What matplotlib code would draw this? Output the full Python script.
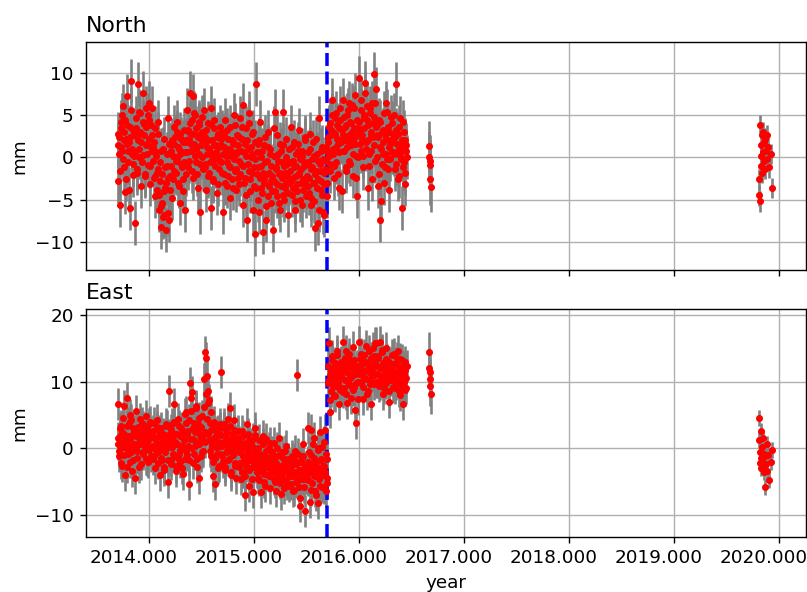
import matplotlib
matplotlib.use("Agg")
import matplotlib.pyplot as plt
from matplotlib.ticker import FormatStrFormatter
from matplotlib.transforms import ScaledTranslation
import numpy as np

plt.rcParams["font.size"] = 10.5

# main campaign: solutions every 3 days from 2013.70, plus a second
# set of solutions offset by half a step
T_START = 2013.70
STEP_DAYS = 3
EVENT_YEAR = 2015.70
YEAR_TICKS = [2014, 2015, 2016, 2017, 2018, 2019, 2020]

north_main = [
    1.5, -2.8, 2.4, -5.6, 4.2, 0.8, 6.1, -1.2, 3.0, -4.1, 2.2, 7.2, -0.5, 1.8, -6.0, 3.6, 9.0, 0.4, -2.1, 2.9,
    -7.8, 2.5, 4.6, -1.4, 8.6, 1.0, 5.2, -3.4, 2.8, 7.6, 0.3, 3.9, -2.2, 5.8, 1.6, -0.9, 4.4, 6.4, -3.2, 1.2,
    5.8, 1.2, -2.4, 3.4, -4.6, 0.6, -1.8, 4.2, -6.2, -2.8, -8.2, 0.8, -5.4, -7.0, 2.2, -3.6, -8.6, -1.0, -6.6, 4.6,
    -7.4, -2.2, 1.4, -4.8, 0.2, 3.6, -1.6, 2.4, -0.4, 4.2, -3.0, 1.0, -5.4, 2.8, -0.8, 0.6, -2.6, 3.2, -6.2, 1.8,
    2.0, 5.6, -1.2, 3.0, 7.6, 0.8, 4.4, 7.2, -2.4, 1.6, 5.0, -0.6, 2.6, -3.6, 3.8, 0.4, -6.4, 2.2, 4.8, -1.4,
    5.6, -0.8, 2.4, -3.8, 1.2, 4.0, -1.8, 0.6, 5.8, -6.0, 2.0, -2.6, 3.4, -0.2, 1.4, -4.2, 2.8, 0.0, -1.4, 3.6,
    -0.6, 3.0, -6.4, 1.2, -2.0, 4.4, 0.2, -3.4, 2.2, -1.0, 3.6, -4.8, 0.8, -2.6, 1.8, 5.0, -1.6, 0.4, -3.8, 2.6,
    1.4, -3.2, 4.6, -0.8, 2.2, -5.6, 6.2, 0.6, -2.4, 3.4, -7.4, 1.0, -1.6, 5.2, -4.0, 0.0, 2.8, -6.2, -1.2, 1.8,
    -9.0, 8.6, -2.0, 1.6, -6.4, 4.2, -1.0, -3.6, 0.8, -8.8, -2.6, 2.4, -7.4, -0.4, 3.0, -4.6, -1.8, 1.0, -5.4, -2.2,
    -8.6, 3.4, -2.8, 5.4, -1.2, -4.6, 0.4, -2.0, -6.2, 1.6, -3.4, -0.6, 5.4, -5.0, -1.8, 2.2, -3.0, -0.8, -4.2, 1.0,
    -1.6, 3.6, -4.4, -0.4, -2.4, 1.8, -6.2, -1.0, -3.2, 0.8, -2.0, 3.2, -5.0, -1.4, 0.2, -3.8, -0.6, 2.4, -2.8, -4.6,
    -2.2, 0.6, -4.2, 2.8, -1.4, -5.6, -0.2, 1.8, -3.0, -8.4, -1.6, 0.4, -7.8, -2.6, 4.6, -0.8, -3.8, 1.2, -6.4, -1.8,
    -6.8, -1.4, 1.2, -3.0, 2.4, 0.2, 4.0, -1.6, 3.2, 6.8, 1.0, -2.4, 2.8, 5.2, -0.6, 3.8, 1.6, -3.6, 4.4, 2.0,
    -4.0, 2.6, 6.8, 0.8, 3.6, -1.2, 5.0, 2.0, 6.4, -0.4, 4.2, 1.4, 3.0, -2.2, 5.8, 2.4, 7.4, 0.2, -4.6, 3.4,
    9.4, 3.2, 0.8, 5.6, 2.2, -1.2, 4.6, 8.8, 1.8, 6.0, -3.6, 3.8, 0.4, 5.2, 2.6, -2.6, 4.0, 9.8, 1.4, 6.4,
    8.0, 2.6, -3.4, 4.4, -7.4, 1.2, -5.2, 3.0, 0.4, 5.2, -1.2, 2.2, 6.4, -0.2, 3.6, -3.8, 1.6, 4.8, 0.6, 2.8,
    1.8, 5.0, -1.4, 8.6, 0.6, 2.8, -2.2, 3.6, 0.2, 1.4, -6.0, 4.2, -0.6, 2.0, -1.8, 0.8,
]

north_main_b = [
    2.8, 0.4, -1.6, 3.4, 1.2, 5.0, -0.2, 2.0, 4.4, -2.6, 1.6, 3.8, 0.8, -3.8, 2.4, 5.6, 1.0, -0.8, 3.2, 0.2,
    0.6, 3.4, -1.8, 2.0, 5.4, 0.0, 3.0, 1.8, -0.6, 4.2, 2.6, -2.0, 1.4, 3.6, 0.4, 5.0, 2.2, -1.0, 3.8, 0.8,
    2.6, -0.4, 1.8, -2.2, 0.2, -3.8, 2.8, -1.4, -4.4, -0.6, -5.8, -2.0, 1.0, -4.0, -6.8, -1.2, -3.0, 0.4, -2.4, 1.6,
    -3.8, 0.8, -1.0, 2.0, -2.6, 1.6, 0.0, -1.8, 3.0, -0.2, 1.2, -3.4, 0.4, 2.2, -1.2, -4.0, 1.8, -0.6, 0.6, -2.0,
    0.6, 3.2, 2.2, -0.4, 4.0, 1.6, -1.6, 2.8, 5.2, 0.2, 3.4, 1.0, -2.0, 2.4, 4.2, -0.8, 1.4, 3.0, 0.0, 2.6,
    1.8, -1.2, 3.2, 0.4, -2.2, 2.0, 1.0, -0.6, 3.8, 0.2, -2.8, 1.4, 4.4, -1.0, 0.6, 2.4, -3.2, 1.2, -0.4, 2.2,
    1.4, -1.8, 0.4, 2.6, -3.0, 0.8, -0.6, 3.2, -2.2, 1.0, -1.2, 0.2, 2.0, -3.6, 1.6, -0.2, 3.8, -1.4, 0.6, -2.4,
    -0.4, 2.4, -2.0, 0.8, 3.6, -1.0, -3.0, 1.6, 0.2, -4.4, 2.0, -0.8, 4.0, -2.6, 1.2, -1.8, 0.4, 3.0, -3.4, -0.2,
    -3.6, 0.6, -1.2, -5.0, 2.0, -2.4, 0.0, -4.2, -1.8, 1.4, -3.0, -0.6, -5.8, -2.0, 1.2, -3.4, 0.4, -2.8, -1.0, -4.0,
    -2.8, 0.2, -4.0, -1.4, 2.6, -3.2, -0.4, -5.4, -1.8, 0.8, -2.4, -4.4, 1.4, -1.0, -3.6, 0.0, -2.2, -6.8, -0.6, -3.0,
    -0.6, -2.8, 1.2, -3.6, -1.2, -5.2, 0.4, -2.2, -4.0, 1.6, -1.8, -0.2, -3.0, -5.6, 0.8, -2.6, -1.0, 2.0, -3.4, -0.8,
    -3.4, -0.6, -2.4, 1.0, -4.8, -1.2, -3.0, 0.2, -5.2, -2.0, 2.2, -3.6, -0.4, -6.2, -1.6, 0.8, -2.8, -4.4, -0.2, -3.2,
    -3.2, -0.4, -4.6, 0.8, 1.8, 3.6, -0.8, 2.6, 5.0, 0.4, 3.0, -1.0, 4.6, 1.2, 2.2, -2.0, 3.4, 0.6, 5.8, 1.8,
    3.2, 0.8, 4.8, 2.0, -1.6, 3.8, 1.2, 5.6, 2.6, -0.8, 4.0, 2.2, 6.2, 0.4, 3.4, 1.6, -2.4, 4.4, 2.8, 0.0,
    4.2, 1.6, 6.8, 2.6, 0.2, 5.0, 3.4, 7.6, 1.0, 4.4, 2.0, -1.0, 5.8, 3.0, 0.8, 6.4, 2.4, 4.8, -0.4, 3.6,
    3.8, 0.0, 2.4, -2.0, 4.2, 1.0, -0.8, 3.2, 1.8, -3.0, 2.6, 0.4, 5.4, -1.4, 1.2, 3.0, -0.2, 2.0, 4.0, 0.6,
    0.4, 2.4, -0.8, 3.2, 1.6, -2.6, 1.0, 4.6, -0.2, 2.0, 0.8, -1.2, 3.0, -3.2, 1.4, 0.0,
]

east_main = [
    0.6, 6.6, -1.2, 1.8, 3.4, -2.6, 0.2, 6.4, 2.2, -4.0, 1.0, 7.6, -0.8, 3.8, -2.0, 1.4, 4.2, -3.4, 0.4, 2.6,
    -4.4, 1.8, 5.6, -0.4, 2.8, 0.6, 4.4, -2.4, 1.4, 3.2, -0.8, 2.0, 0.2, 4.8, -1.8, 1.2, 3.6, -0.2, 2.4, -1.2,
    2.2, -1.6, 3.8, 0.4, -3.0, 1.6, 4.2, -0.6, 2.6, -4.0, 0.8, 3.0, -1.8, 1.2, -2.8, 2.0, 0.0, 3.4, -5.0, 1.0,
    8.6, 0.2, -2.4, 3.6, 1.2, -1.2, 6.6, 2.2, -3.4, 0.6, 4.4, -0.8, 1.8, -2.0, 3.0, 0.4, -3.8, 2.4, 5.2, -0.4,
    5.4, -1.0, 2.6, -5.4, 9.8, 7.6, 8.4, 1.4, -2.2, 3.8, 0.4, 6.0, -1.6, 2.8, 4.6, -4.4, 1.2, 3.2, -0.6, 2.0,
    10.4, 2.4, 14.4, 13.6, 10.8, 8.6, 7.2, 3.8, 5.4, -1.2, 0.8, -4.2, 4.0, -5.4, 1.8, -0.8, 2.6, 0.2, -2.6, 3.0,
    11.4, 0.4, -2.0, 3.6, 1.0, -3.2, 2.2, -0.6, 4.4, -1.6, 0.8, 6.0, -4.0, 1.6, -0.2, 2.8, -2.6, 0.2, -4.4, 1.2,
    1.6, -2.8, 0.2, -4.6, 2.6, -1.2, -3.6, 0.8, -7.0, -2.0, 3.6, -0.4, -5.6, 1.2, -3.0, -1.6, 0.4, -6.6, -2.4, 2.0,
    3.0, -2.6, -0.8, -4.4, 1.2, -3.4, -6.6, -1.4, -2.2, 0.6, -5.0, -3.0, 1.4, -1.8, -4.0, -2.8, 0.0, -6.0, -3.6, -1.0,
    -2.4, 0.8, -4.6, -3.0, -6.4, -1.2, -3.8, 1.6, -5.2, -2.6, -4.0, -0.6, -3.4, -6.0, -2.0, 0.4, -4.8, -3.2, -1.6, -5.6,
    -3.0, -5.4, -1.2, -4.2, -2.4, -6.2, -0.4, -3.6, 11.0, -4.8, -2.0, -5.8, -8.6, -3.2, -1.4, 0.6, -4.6, -2.8, -9.4, -3.8,
    -4.4, 3.0, -2.2, -8.0, -1.0, 2.8, -5.2, -3.0, 1.6, -6.4, -2.0, -4.0, 0.0, -8.2, -3.4, 2.4, -1.6, -5.8, -2.6, 1.0,
    -2.6, 2.8, -6.4, -4.4, 9.8, 15.8, 11.0, 5.4, 8.6, 13.2, 10.4, 12.2, 7.8, 11.6, 9.4, 14.0, 10.8, 6.6, 12.6, 9.0,
    11.4, 16.0, 8.4, 12.8, 10.2, 14.6, 6.8, 11.8, 9.6, 13.4, 10.6, 7.6, 12.4, 15.2, 9.2, 11.2, 5.8, 3.8, 12.0, 10.0,
    16.0, 12.4, 9.8, 14.2, 11.0, 7.4, 13.0, 10.4, 15.4, 11.8, 8.6, 12.8, 14.6, 10.2, 6.6, 12.2, 11.4, 13.8, 9.6, 15.8,
    15.8, 11.2, 13.6, 9.4, 16.0, 12.0, 10.6, 14.4, 8.2, 12.8, 11.4, 15.0, 9.8, 13.2, 10.4, 7.0, 12.6, 11.6, 14.0, 9.2,
    11.6, 14.2, 9.0, 12.8, 10.4, 14.6, 8.6, 11.8, 13.4, 10.0, 12.4, 6.6, 11.2, 13.0, 8.8, 10.6,
]

east_main_b = [
    1.6, -0.4, 3.0, 0.8, -2.2, 2.4, 4.6, -1.0, 1.2, 0.0, 3.4, -2.8, 1.8, 0.4, 5.0, -0.6, 2.0, -1.8, 3.0, 0.6,
    2.4, 0.0, -1.4, 3.2, 1.0, -2.8, 2.2, 0.6, 3.8, -0.6, 1.6, 2.8, -1.6, 0.8, 3.0, -2.0, 1.8, 4.0, 0.2, 2.0,
    0.4, 2.6, -1.2, 1.4, -0.2, 3.2, 0.6, -2.2, 1.8, 2.4, -1.4, 0.0, 2.2, -3.2, 1.0, -0.6, 3.6, 0.8, -1.8, 2.0,
    1.6, -1.8, 2.8, 0.2, -0.8, 4.0, 1.0, -2.6, 2.2, 0.6, -1.4, 3.4, -0.2, 1.8, -3.0, 2.6, 0.0, 1.2, -1.6, 3.8,
    2.2, 0.4, 4.2, -1.8, 1.4, 5.6, 0.0, 3.0, -0.8, 2.4, 6.4, 1.0, -2.8, 3.6, 0.6, 2.0, -1.2, 4.8, 1.6, -0.4,
    6.2, 1.0, 8.2, 4.4, 2.2, 6.8, 1.2, -0.4, 2.8, 0.4, -2.0, 1.6, 3.2, -1.4, 0.2, 2.4, -3.0, 1.0, 3.6, -0.8,
    2.0, -1.2, 0.6, 3.0, -2.8, 1.4, -0.4, 2.4, -1.8, 0.2, 3.4, -3.6, 0.8, 2.2, -1.0, 4.2, -2.2, 1.0, -0.2, 2.6,
    -0.6, 1.0, -2.2, -0.2, -3.6, 1.8, -1.4, -4.2, 0.4, -2.6, -0.8, 2.2, -3.2, -1.8, 0.6, -4.6, -1.0, 1.4, -2.8, -0.4,
    -1.6, -3.6, 0.0, -2.4, -4.8, -0.8, -2.0, -3.0, 1.8, -1.2, -3.8, -5.6, -0.4, -2.6, -1.4, -4.2, 0.8, -2.2, -3.2, -0.6,
    -3.6, -1.8, -5.0, -2.2, 0.0, -3.4, -4.4, -1.0, -2.8, -6.8, -3.8, -1.4, -4.6, -2.4, -0.4, -3.0, -5.4, -1.8, -4.0, -2.6,
    -4.2, -2.2, -3.4, -6.4, -1.6, -3.8, -5.0, -2.4, -4.0, -0.8, -3.2, -7.4, -2.0, -4.6, -3.6, -1.2, -5.8, -3.0, -4.4, -2.6,
    -2.0, -4.8, -0.6, -3.6, -6.2, -2.4, 0.6, -4.2, -1.4, -3.2, -7.0, -2.8, -0.2, -4.6, -5.6, -1.8, -3.4, 0.2, -4.0, -6.0,
    -3.6, -0.8, -5.2, -1.6, 12.4, 10.2, 7.2, 11.6, 13.8, 9.4, 11.0, 8.0, 12.8, 10.4, 14.6, 9.8, 12.0, 11.2, 8.8, 13.0,
    10.6, 12.2, 9.0, 13.6, 11.4, 8.2, 12.6, 10.0, 14.2, 11.0, 9.4, 12.8, 10.8, 8.8, 13.2, 11.6, 9.8, 12.4, 7.4, 11.8,
    11.2, 13.4, 10.0, 12.6, 9.2, 14.0, 11.6, 10.6, 13.0, 8.2, 12.0, 11.4, 9.6, 13.6, 12.2, 10.8, 15.0, 11.0, 12.8, 10.0,
    12.4, 10.0, 13.8, 11.0, 9.6, 12.2, 14.8, 10.6, 12.8, 9.0, 11.8, 13.4, 10.4, 12.0, 8.6, 13.0, 11.2, 10.2, 12.6, 11.6,
    10.8, 12.6, 9.6, 11.4, 13.6, 10.2, 12.0, 8.0, 11.0, 13.2, 9.4, 12.2, 10.0, 11.8, 9.0, 12.4,
]

# short occupation in autumn 2016
t_mid = [2016.670, 2016.672, 2016.675, 2016.678, 2016.681, 2016.684]
north_mid = [1.3, 0.0, -0.4, -0.9, -2.6, -3.5]
east_mid = [14.5, 12.0, 11.4, 10.4, 9.3, 8.2]

# re-occupation end of 2019
t_late = [2019.810, 2019.815, 2019.820, 2019.823, 2019.827, 2019.830, 2019.834, 2019.838,
          2019.842, 2019.846, 2019.850, 2019.855, 2019.860, 2019.866, 2019.872, 2019.878,
          2019.885, 2019.892, 2019.900, 2019.910, 2019.922, 2019.935]
north_late = [-2.6, -4.5, -5.2, 3.8, 0.2, -1.0, 1.4, -1.8, 2.6, 0.6, 3.0,
              -0.4, 1.8, 2.2, -1.4, 0.8, 2.6, -0.2, 1.2, -1.2, 0.4, -3.6]
east_late = [4.6, 1.2, -0.6, -2.2, 2.6, -1.4, -3.0, 0.2, -1.8, 1.6, -2.8,
             -0.8, -3.6, -5.8, -1.2, -2.4, 0.6, -3.4, -1.0, -4.8, -2.0, -0.2]

# formal errors (mm) per occupation: main, main (b), 2016, 2019
sig_north = [2.6, 2.6, 3.0, 1.2]
sig_east = [2.4, 2.4, 3.0, 1.2]

t_main = T_START + np.arange(len(north_main)) * STEP_DAYS / 365.25
t_main_b = T_START + (np.arange(len(north_main_b)) + 0.5) * STEP_DAYS / 365.25

fig, axes = plt.subplots(2, 1, sharex=True, figsize=(807 / 126, 592 / 126), dpi=126)
fig.subplots_adjust(left=0.1066, right=0.9988, top=0.929, bottom=0.0929, hspace=0.171)

panels = [
    ("North", [north_main, north_main_b, north_mid, north_late], sig_north, (-13.3, 13.6)),
    ("East", [east_main, east_main_b, east_mid, east_late], sig_east, (-13.3, 20.9)),
]

for ax, (name, series, sigmas, ylim) in zip(axes, panels):
    for t, y, s in zip([t_main, t_main_b, t_mid, t_late], series, sigmas):
        ax.errorbar(t, y, yerr=s, fmt="r.", ecolor="gray")
    ax.axvline(EVENT_YEAR, color="b", linestyle="--", linewidth=2)
    ax.set_title(name, loc="left")
    ax.set_ylabel("mm")
    ax.set_ylim(*ylim)
    ax.grid(True)

axes[1].set_xlim(2013.40, 2020.26)
axes[1].set_xticks(YEAR_TICKS)
axes[1].xaxis.set_major_formatter(FormatStrFormatter("%.3f"))
axes[1].set_xlabel("year")

# labels sit a little left of their ticks in the original
shift = ScaledTranslation(-15 / 126, 0, fig.dpi_scale_trans)
for lab in axes[1].get_xticklabels():
    lab.set_transform(lab.get_transform() + shift)

fig.savefig("out.png", dpi=126)
